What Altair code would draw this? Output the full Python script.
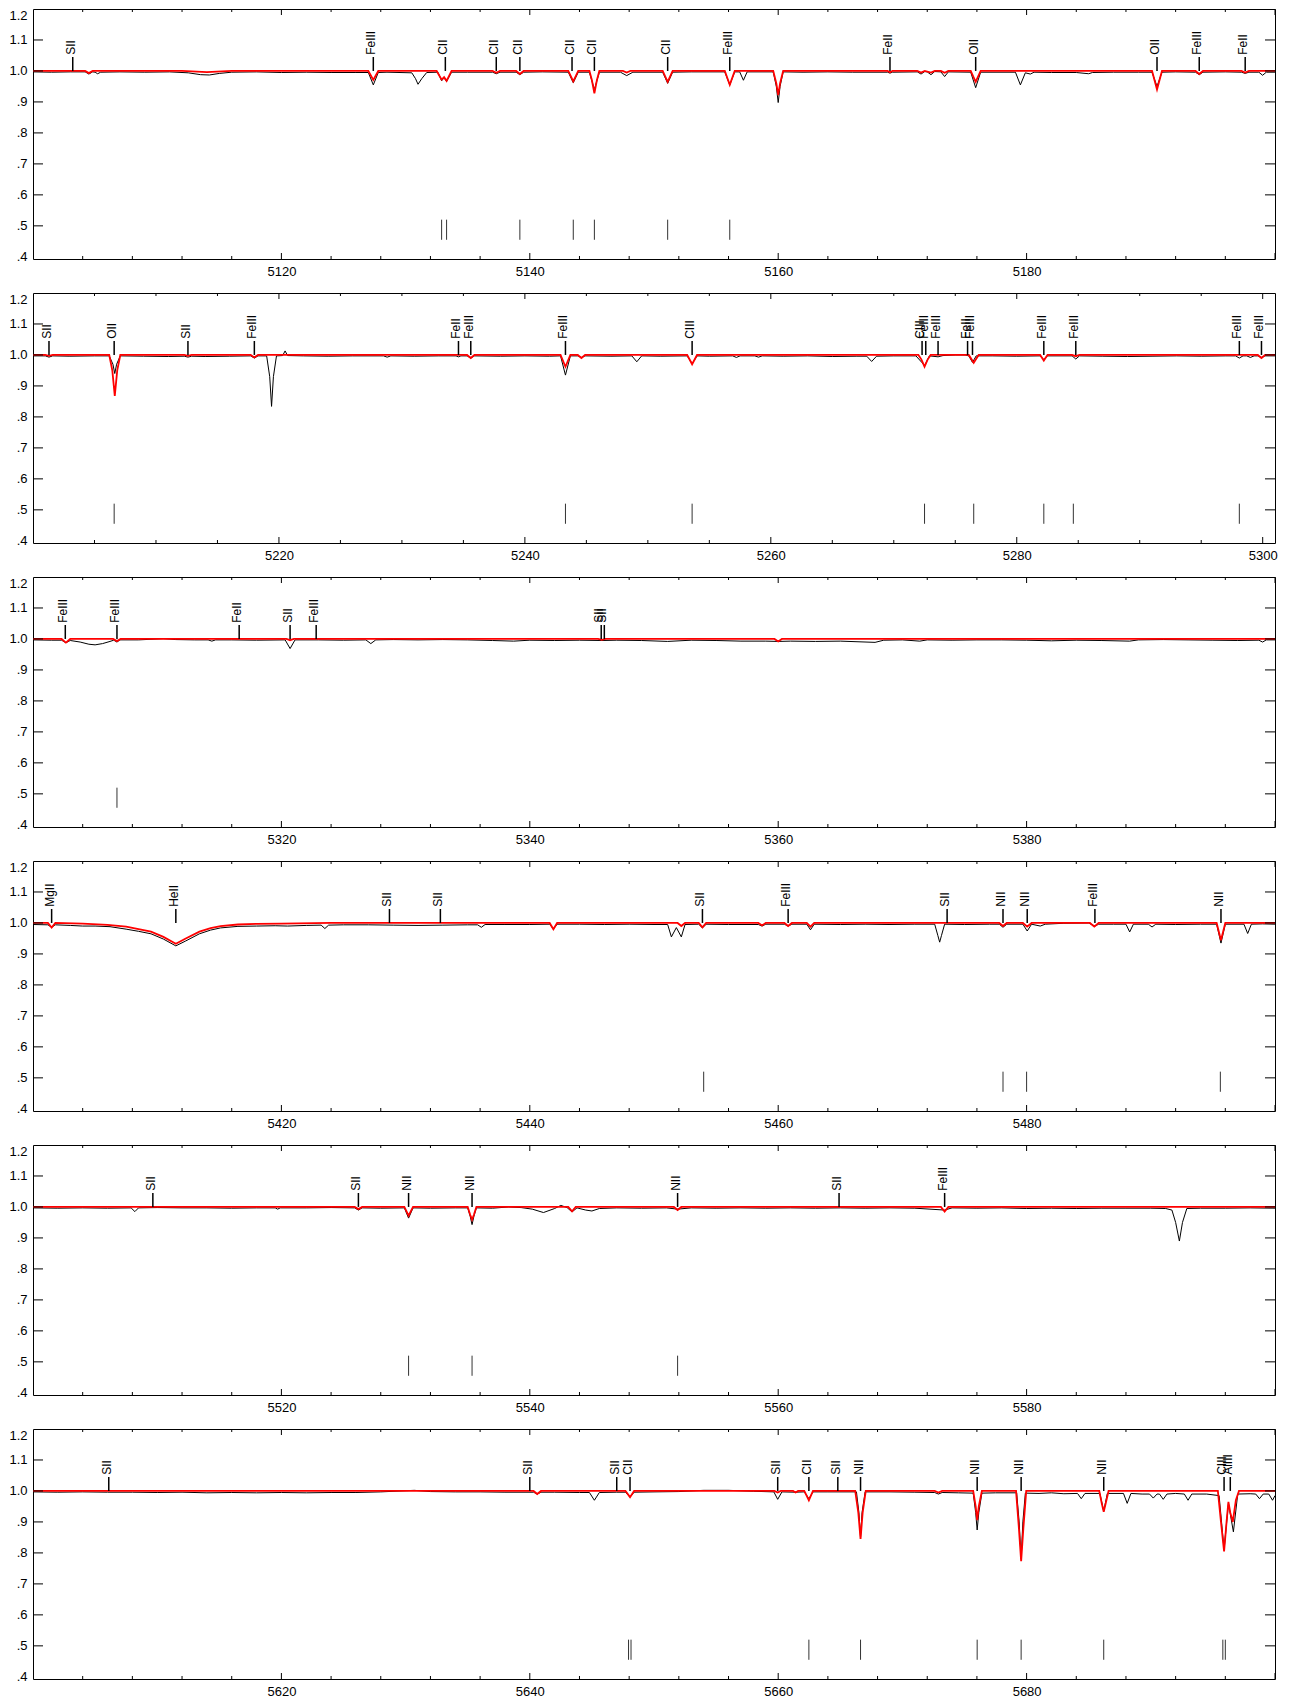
import altair as alt
import pandas as pd

FONT = "Liberation Sans"

# ---------------- Panel 1 : 5100 - 5200 ----------------
OBS_P1 = [
    (5100.0, 0.997), (5101.5, 0.996), (5103.0, 0.997), (5104.2, 0.997), (5104.5, 0.990), (5104.8, 0.997),
    (5105.0, 0.996), (5105.2, 0.991), (5105.45, 0.996), (5107.0, 0.997), (5109.0, 0.996), (5111.0, 0.997),
    (5112.5, 0.994), (5113.5, 0.988), (5114.2, 0.987), (5115.0, 0.992), (5116.0, 0.996), (5118.0, 0.997),
    (5120.0, 0.995), (5122.0, 0.996), (5124.0, 0.995), (5126.0, 0.995), (5127.0, 0.995), (5127.4, 0.955),
    (5127.8, 0.995), (5128.5, 0.996), (5130.5, 0.994), (5130.8, 0.975), (5131.0, 0.957), (5131.3, 0.975),
    (5131.7, 0.995), (5132.6, 0.996), (5132.9, 0.968), (5133.1, 0.978), (5133.3, 0.966), (5133.7, 0.996),
    (5135.0, 0.996), (5137.0, 0.996), (5137.3, 0.991), (5137.6, 0.996), (5138.9, 0.996), (5139.2, 0.988),
    (5139.5, 0.996), (5141.0, 0.997), (5143.1, 0.996), (5143.5, 0.962), (5143.9, 0.996), (5144.8, 0.996),
    (5145.2, 0.940), (5145.6, 0.996), (5147.3, 0.996), (5147.8, 0.985), (5148.3, 0.996), (5150.0, 0.996),
    (5150.7, 0.996), (5151.1, 0.960), (5151.5, 0.996), (5153.0, 0.997), (5155.7, 0.997), (5156.1, 0.955),
    (5156.5, 0.997), (5156.9, 0.997), (5157.2, 0.970), (5157.5, 0.997), (5159.6, 0.997), (5159.85, 0.950),
    (5160.0, 0.898), (5160.15, 0.950), (5160.4, 0.997), (5162.0, 0.996), (5164.0, 0.997), (5166.0, 0.996),
    (5168.8, 0.996), (5169.0, 0.993), (5169.2, 0.996), (5171.2, 0.997), (5171.5, 0.990), (5171.8, 0.998),
    (5172.0, 0.997), (5172.3, 0.988), (5172.6, 0.998), (5173.1, 0.997), (5173.4, 0.982), (5173.7, 0.997),
    (5175.5, 0.996), (5175.9, 0.946), (5176.3, 0.996), (5179.1, 0.996), (5179.5, 0.955), (5179.9, 0.994),
    (5180.3, 0.990), (5180.6, 0.996), (5182.0, 0.995), (5184.0, 0.995), (5185.0, 0.991), (5185.3, 0.995),
    (5187.0, 0.996), (5189.0, 0.996), (5190.1, 0.996), (5190.5, 0.950), (5190.9, 0.996), (5192.0, 0.997),
    (5193.6, 0.996), (5193.9, 0.988), (5194.2, 0.996), (5196.0, 0.997), (5197.3, 0.996), (5197.6, 0.992),
    (5197.9, 0.996), (5198.7, 0.996), (5199.0, 0.986), (5199.3, 0.996), (5200.0, 0.996),
]
MOD_P1 = [
    (5100.0, 1.0), (5104.2, 1.0), (5104.5, 0.993), (5104.8, 1.0), (5112.0, 1.0), (5114.0, 0.996),
    (5116.0, 1.0), (5127.0, 1.0), (5127.4, 0.971), (5127.8, 1.0), (5132.5, 1.0), (5132.9, 0.972),
    (5133.1, 0.980), (5133.3, 0.968), (5133.7, 1.0), (5137.0, 1.0), (5137.3, 0.994), (5137.6, 1.0),
    (5138.9, 1.0), (5139.2, 0.990), (5139.5, 1.0), (5143.1, 1.0), (5143.5, 0.966), (5143.9, 1.0),
    (5144.8, 1.0), (5145.0, 0.970), (5145.2, 0.928), (5145.4, 0.970), (5145.6, 1.0), (5147.5, 1.0),
    (5147.8, 0.995), (5148.1, 1.0), (5150.7, 1.0), (5151.1, 0.965), (5151.5, 1.0), (5155.7, 1.0),
    (5156.1, 0.955), (5156.5, 1.0), (5159.6, 1.0), (5159.85, 0.960), (5160.0, 0.922), (5160.15, 0.960),
    (5160.4, 1.0), (5168.8, 1.0), (5169.0, 0.996), (5169.2, 1.0), (5171.2, 1.0), (5171.5, 0.995),
    (5171.8, 1.0), (5172.3, 0.995), (5172.6, 1.0), (5173.1, 1.0), (5173.4, 0.994), (5173.7, 1.0),
    (5175.5, 1.0), (5175.9, 0.965), (5176.3, 1.0), (5190.1, 1.0), (5190.5, 0.940), (5190.9, 1.0),
    (5193.6, 1.0), (5193.9, 0.990), (5194.2, 1.0), (5197.3, 1.0), (5197.6, 0.995), (5197.9, 1.0),
    (5200.0, 1.0),
]
LBL_W_P1 = [5103.2, 5127.4, 5133.2, 5137.3, 5139.2, 5143.4, 5145.2, 5151.1, 5156.1, 5169.0, 5175.9, 5190.5, 5193.9, 5197.6]
LBL_T_P1 = ["SII", "FeIII", "CII", "CII", "CII", "CII", "CII", "CII", "FeIII", "FeII", "OII", "OII", "FeIII", "FeII"]
TICK_P1 = [5132.9, 5133.3, 5139.2, 5143.5, 5145.2, 5151.1, 5156.1]

# ---------------- Panel 2 : 5200 - 5301 ----------------
OBS_P2 = [
    (5200.0, 0.997), (5201.0, 0.997), (5201.3, 0.993), (5201.6, 0.997), (5203.0, 0.996), (5205.0, 0.997),
    (5206.2, 0.997), (5206.5, 0.970), (5206.65, 0.940), (5206.8, 0.970), (5207.1, 0.997), (5209.0, 0.996),
    (5211.0, 0.995), (5212.3, 0.996), (5212.6, 0.993), (5212.9, 0.996), (5214.0, 0.995), (5216.0, 0.996),
    (5217.7, 0.997), (5218.0, 0.990), (5218.3, 0.997), (5219.0, 0.997), (5219.25, 0.930), (5219.4, 0.834),
    (5219.55, 0.930), (5219.8, 0.997), (5220.3, 0.998), (5220.5, 1.013), (5220.7, 0.998), (5222.0, 0.997),
    (5224.0, 0.996), (5226.0, 0.997), (5228.5, 0.997), (5228.8, 0.993), (5229.1, 0.997), (5231.0, 0.996),
    (5233.0, 0.997), (5234.4, 0.997), (5234.6, 0.994), (5234.8, 0.997), (5235.3, 0.997), (5235.6, 0.990),
    (5235.9, 0.997), (5238.0, 0.996), (5240.0, 0.997), (5242.0, 0.996), (5242.9, 0.997), (5243.3, 0.935),
    (5243.7, 0.997), (5244.3, 0.997), (5244.6, 0.992), (5244.9, 0.997), (5247.0, 0.996), (5248.7, 0.997),
    (5249.1, 0.978), (5249.5, 0.997), (5251.0, 0.996), (5253.2, 0.997), (5253.6, 0.972), (5254.0, 0.997),
    (5255.0, 0.996), (5256.9, 0.997), (5257.2, 0.992), (5257.5, 0.997), (5258.7, 0.997), (5259.0, 0.993),
    (5259.3, 0.997), (5261.0, 0.996), (5263.0, 0.997), (5265.0, 0.995), (5267.0, 0.996), (5267.8, 0.996),
    (5268.2, 0.979), (5268.6, 0.996), (5270.0, 0.997), (5271.8, 0.997), (5272.3, 0.975), (5272.5, 0.965),
    (5272.9, 0.997), (5273.6, 0.994), (5274.0, 0.998), (5275.0, 1.000), (5275.8, 1.000), (5276.1, 0.997),
    (5276.4, 0.976), (5276.7, 0.997), (5278.0, 0.997), (5280.0, 0.996), (5281.9, 0.997), (5282.2, 0.985),
    (5282.5, 0.997), (5284.5, 0.997), (5284.8, 0.987), (5285.1, 0.997), (5287.0, 0.996), (5289.0, 0.995),
    (5291.0, 0.996), (5293.0, 0.997), (5295.0, 0.996), (5297.0, 0.997), (5297.8, 0.997), (5298.1, 0.990),
    (5298.4, 0.997), (5298.7, 0.997), (5299.0, 0.992), (5299.3, 0.997), (5299.6, 0.997), (5299.9, 0.992),
    (5300.2, 0.997), (5301.0, 0.997),
]
MOD_P2 = [
    (5200.0, 1.0), (5201.0, 1.0), (5201.3, 0.997), (5201.6, 1.0), (5206.2, 1.0), (5206.45, 0.950),
    (5206.65, 0.868), (5206.85, 0.950), (5207.1, 1.0), (5212.3, 1.0), (5212.6, 0.997), (5212.9, 1.0),
    (5217.7, 1.0), (5218.0, 0.992), (5218.3, 1.0), (5235.3, 1.0), (5235.6, 0.990), (5235.9, 1.0),
    (5242.9, 1.0), (5243.3, 0.962), (5243.7, 1.0), (5244.3, 1.0), (5244.6, 0.990), (5244.9, 1.0),
    (5253.2, 1.0), (5253.6, 0.970), (5254.0, 1.0), (5272.0, 1.0), (5272.25, 0.985), (5272.5, 0.962),
    (5272.75, 0.985), (5273.0, 1.0), (5276.1, 1.0), (5276.5, 0.975), (5276.9, 1.0), (5281.9, 1.0),
    (5282.2, 0.982), (5282.5, 1.0), (5284.5, 1.0), (5284.8, 0.996), (5285.1, 1.0), (5299.6, 1.0),
    (5299.9, 0.990), (5300.2, 1.0), (5301.0, 1.0),
]
LBL_W_P2 = [5201.3, 5206.6, 5212.6, 5218.0, 5234.6, 5235.6, 5243.3, 5253.6, 5272.3, 5272.6, 5273.6,
            5276.0, 5276.4, 5282.2, 5284.8, 5298.1, 5299.9]
LBL_T_P2 = ["SII", "OII", "SII", "FeIII", "FeII", "FeIII", "FeIII", "CIII", "CIII", "FeIII", "FeIII",
            "FeII", "FeIII", "FeIII", "FeIII", "FeIII", "FeIII"]
TICK_P2 = [5206.6, 5243.3, 5253.6, 5272.5, 5276.5, 5282.2, 5284.6, 5298.1]

# ---------------- Panel 3 : 5300 - 5400 ----------------
OBS_P3 = [
    (5300.0, 0.997), (5301.5, 0.996), (5302.3, 0.996), (5302.65, 0.988), (5303.0, 0.995), (5303.8, 0.990),
    (5304.5, 0.983), (5305.0, 0.981), (5305.6, 0.985), (5306.2, 0.992), (5306.5, 0.996), (5306.76, 0.990),
    (5307.0, 0.997), (5308.5, 0.997), (5309.5, 0.999), (5310.5, 1.001), (5311.5, 0.998), (5313.0, 0.997),
    (5314.1, 0.997), (5314.4, 0.993), (5314.7, 0.997), (5316.0, 0.997), (5318.0, 0.996), (5320.3, 0.997),
    (5320.7, 0.969), (5321.1, 0.997), (5323.0, 0.997), (5325.0, 0.996), (5326.8, 0.997), (5327.2, 0.985),
    (5327.6, 0.997), (5329.0, 0.998), (5331.0, 0.997), (5333.0, 0.998), (5335.0, 0.997), (5337.0, 0.995),
    (5338.7, 0.993), (5340.0, 0.996), (5342.0, 0.995), (5344.0, 0.996), (5345.8, 0.995), (5347.0, 0.996),
    (5349.0, 0.995), (5351.1, 0.992), (5353.0, 0.996), (5355.0, 0.995), (5357.0, 0.993), (5359.0, 0.993),
    (5360.0, 0.992), (5361.0, 0.993), (5363.0, 0.992), (5365.0, 0.993), (5367.8, 0.989), (5368.5, 0.996),
    (5370.0, 0.997), (5371.4, 0.993), (5372.0, 0.997), (5374.0, 0.996), (5376.0, 0.997), (5378.0, 0.997),
    (5380.0, 0.996), (5382.0, 0.994), (5384.0, 0.996), (5386.0, 0.995), (5388.3, 0.993), (5389.0, 0.997),
    (5391.0, 0.998), (5393.0, 0.997), (5395.0, 0.996), (5397.0, 0.995), (5398.7, 0.996), (5399.0, 0.990),
    (5399.3, 0.997), (5400.0, 0.997),
]
MOD_P3 = [
    (5300.0, 1.0), (5302.3, 1.0), (5302.65, 0.988), (5303.0, 1.0), (5306.45, 1.0), (5306.76, 0.993),
    (5307.05, 1.0), (5320.4, 1.0), (5320.7, 0.996), (5321.0, 1.0), (5345.5, 1.0), (5345.8, 0.997),
    (5346.1, 1.0), (5359.7, 1.0), (5360.0, 0.992), (5360.3, 1.0), (5400.0, 1.0),
]
LBL_W_P3 = [5302.6, 5306.76, 5316.6, 5320.7, 5322.8, 5345.75, 5346.0]
LBL_T_P3 = ["FeIII", "FeIII", "FeII", "SII", "FeIII", "SII", "SII"]
TICK_P3 = [5306.76]

# ---------------- Panel 4 : 5400 - 5500 ----------------
OBS_P4 = [
    (5400.0, 0.995), (5401.2, 0.994), (5401.5, 0.986), (5401.8, 0.994), (5403.0, 0.992), (5404.0, 0.990),
    (5405.0, 0.990), (5406.2, 0.988), (5407.5, 0.980), (5408.5, 0.973), (5409.5, 0.965), (5410.5, 0.948),
    (5411.5, 0.926), (5412.3, 0.942), (5413.4, 0.965), (5414.3, 0.977), (5415.1, 0.984), (5416.5, 0.989),
    (5418.0, 0.990), (5419.5, 0.991), (5420.5, 0.990), (5422.0, 0.992), (5423.2, 0.993), (5423.5, 0.982),
    (5423.8, 0.993), (5425.0, 0.994), (5427.0, 0.994), (5429.0, 0.993), (5431.0, 0.992), (5433.0, 0.993),
    (5435.0, 0.994), (5435.8, 0.994), (5436.1, 0.986), (5436.4, 0.995), (5438.0, 0.995), (5440.0, 0.995),
    (5441.6, 0.996), (5441.9, 0.980), (5442.2, 0.996), (5444.0, 0.996), (5446.0, 0.995), (5448.0, 0.996),
    (5450.0, 0.995), (5451.1, 0.995), (5451.4, 0.955), (5451.8, 0.985), (5452.2, 0.955), (5452.5, 0.995),
    (5453.6, 0.996), (5453.9, 0.984), (5454.2, 0.996), (5456.0, 0.995), (5458.4, 0.995), (5458.7, 0.990),
    (5459.0, 0.996), (5460.5, 0.996), (5460.8, 0.990), (5461.1, 0.996), (5462.3, 0.996), (5462.6, 0.978),
    (5462.9, 0.996), (5465.0, 0.995), (5467.0, 0.996), (5469.0, 0.995), (5471.0, 0.996), (5472.6, 0.996),
    (5472.85, 0.960), (5473.0, 0.938), (5473.15, 0.960), (5473.4, 0.996), (5475.0, 0.995), (5477.0, 0.996),
    (5477.8, 0.996), (5478.1, 0.986), (5478.4, 0.996), (5479.7, 0.996), (5480.05, 0.974), (5480.4, 0.996),
    (5481.1, 0.990), (5481.5, 0.996), (5483.0, 0.999), (5485.0, 1.000), (5485.5, 0.990), (5485.8, 0.996),
    (5487.0, 0.996), (5488.0, 0.996), (5488.3, 0.971), (5488.6, 0.996), (5489.8, 0.996), (5490.1, 0.987),
    (5490.4, 0.996), (5492.0, 0.995), (5494.0, 0.996), (5495.3, 0.996), (5495.65, 0.935), (5496.0, 0.996),
    (5497.5, 0.996), (5497.8, 0.966), (5498.1, 0.996), (5499.0, 0.997), (5500.0, 0.996),
]
MOD_P4 = [
    (5400.0, 1.0), (5401.2, 1.0), (5401.5, 0.985), (5401.8, 1.0), (5404.0, 0.998), (5406.0, 0.994),
    (5407.5, 0.988), (5408.5, 0.980), (5409.5, 0.972), (5410.5, 0.955), (5411.5, 0.933), (5412.3, 0.950),
    (5413.4, 0.972), (5414.3, 0.983), (5415.1, 0.990), (5416.5, 0.995), (5418.0, 0.997), (5420.0, 0.998),
    (5424.0, 1.0), (5441.6, 1.0), (5441.9, 0.980), (5442.2, 1.0), (5451.9, 1.0), (5452.2, 0.990),
    (5452.5, 1.0), (5453.6, 1.0), (5453.9, 0.986), (5454.2, 1.0), (5458.4, 1.0), (5458.7, 0.992),
    (5459.0, 1.0), (5460.5, 1.0), (5460.8, 0.990), (5461.1, 1.0), (5462.3, 1.0), (5462.6, 0.988),
    (5462.9, 1.0), (5477.8, 1.0), (5478.1, 0.990), (5478.4, 1.0), (5479.7, 1.0), (5480.05, 0.988),
    (5480.4, 1.0), (5485.1, 1.0), (5485.45, 0.988), (5485.8, 1.0), (5495.3, 1.0), (5495.65, 0.944),
    (5496.0, 1.0), (5500.0, 1.0),
]
LBL_W_P4 = [5401.5, 5411.5, 5428.7, 5432.8, 5453.9, 5460.8, 5473.6, 5478.1, 5480.05, 5485.5, 5495.65]
LBL_T_P4 = ["MgII", "HeII", "SII", "SII", "SII", "FeIII", "SII", "NII", "NII", "FeIII", "NII"]
TICK_P4 = [5454.0, 5478.1, 5480.0, 5495.6]

# ---------------- Panel 5 : 5500 - 5600 ----------------
OBS_P5 = [
    (5500.0, 0.997), (5502.0, 0.996), (5504.0, 0.997), (5506.0, 0.996), (5507.9, 0.997), (5508.2, 0.985),
    (5508.5, 0.997), (5510.0, 0.998), (5512.0, 0.997), (5514.0, 0.997), (5516.0, 0.996), (5518.0, 0.997),
    (5519.5, 0.997), (5519.7, 0.993), (5519.9, 0.997), (5522.0, 0.997), (5524.0, 0.998), (5525.9, 0.997),
    (5526.2, 0.990), (5526.5, 0.997), (5528.0, 0.996), (5529.9, 0.997), (5530.24, 0.964), (5530.6, 0.997),
    (5532.0, 0.996), (5534.0, 0.997), (5535.0, 0.997), (5535.2, 0.970), (5535.35, 0.943), (5535.5, 0.970),
    (5535.7, 0.997), (5537.0, 0.996), (5538.3, 1.000), (5539.3, 0.998), (5540.2, 0.993), (5541.1, 0.982),
    (5542.0, 0.995), (5542.5, 1.005), (5543.0, 0.998), (5543.4, 0.984), (5543.8, 0.997), (5544.5, 0.990),
    (5545.0, 0.987), (5545.6, 0.995), (5547.0, 0.997), (5549.0, 0.996), (5551.0, 0.997), (5551.9, 0.993),
    (5553.0, 0.997), (5555.0, 0.996), (5557.0, 0.997), (5559.0, 0.996), (5561.0, 0.997), (5563.0, 0.996),
    (5565.0, 0.997), (5567.0, 0.996), (5569.0, 0.997), (5571.0, 0.996), (5573.4, 0.990), (5574.0, 0.997),
    (5576.0, 0.996), (5578.0, 0.997), (5580.0, 0.995), (5582.0, 0.996), (5584.0, 0.995), (5586.0, 0.996),
    (5588.0, 0.996), (5590.0, 0.996), (5591.2, 0.995), (5591.7, 0.990), (5592.0, 0.950), (5592.3, 0.890),
    (5592.55, 0.950), (5592.9, 0.995), (5594.0, 0.996), (5596.0, 0.996), (5598.0, 0.997), (5600.0, 0.996),
]
MOD_P5 = [
    (5500.0, 1.0), (5525.9, 1.0), (5526.2, 0.993), (5526.5, 1.0), (5529.9, 1.0), (5530.24, 0.972),
    (5530.6, 1.0), (5535.0, 1.0), (5535.2, 0.975), (5535.35, 0.959), (5535.5, 0.975), (5535.7, 1.0),
    (5543.1, 1.0), (5543.4, 0.986), (5543.7, 1.0), (5551.6, 1.0), (5551.9, 0.990), (5552.2, 1.0),
    (5573.1, 1.0), (5573.4, 0.985), (5573.7, 1.0), (5600.0, 1.0),
]
LBL_W_P5 = [5509.65, 5526.2, 5530.24, 5535.35, 5551.9, 5564.9, 5573.4]
LBL_T_P5 = ["SII", "SII", "NII", "NII", "NII", "SII", "FeIII"]
TICK_P5 = [5530.24, 5535.35, 5551.9]

# ---------------- Panel 6 : 5600 - 5700 ----------------
OBS_P6 = [
    (5600.0, 0.997), (5602.0, 0.996), (5604.0, 0.997), (5606.0, 0.996), (5608.0, 0.996), (5610.0, 0.995),
    (5612.0, 0.996), (5614.0, 0.994), (5616.0, 0.995), (5618.0, 0.994), (5620.0, 0.995), (5622.0, 0.994),
    (5624.0, 0.995), (5626.0, 0.995), (5628.0, 0.997), (5630.7, 1.002), (5632.0, 0.998), (5634.0, 0.997),
    (5636.0, 0.997), (5638.0, 0.996), (5640.3, 0.996), (5640.6, 0.990), (5640.9, 0.996), (5642.0, 0.996),
    (5644.0, 0.995), (5644.8, 0.995), (5645.2, 0.970), (5645.6, 0.995), (5647.0, 0.996), (5647.7, 0.996),
    (5648.07, 0.980), (5648.4, 0.996), (5650.0, 0.997), (5652.0, 0.998), (5654.0, 1.002), (5656.0, 1.002),
    (5658.0, 0.999), (5659.65, 0.997), (5659.96, 0.973), (5660.3, 0.997), (5661.4, 0.996), (5662.1, 0.997),
    (5662.47, 0.975), (5662.8, 0.997), (5664.0, 0.997), (5666.3, 0.997), (5666.5, 0.930), (5666.63, 0.850),
    (5666.75, 0.930), (5667.0, 0.997), (5669.0, 0.997), (5671.0, 0.996), (5672.6, 0.995), (5672.9, 0.990),
    (5673.2, 0.995), (5674.5, 0.994), (5675.7, 0.993), (5675.9, 0.930), (5676.02, 0.874), (5676.15, 0.930),
    (5676.4, 0.993), (5677.5, 0.994), (5679.2, 0.994), (5679.4, 0.900), (5679.56, 0.780), (5679.7, 0.900),
    (5679.9, 0.993), (5681.0, 0.992), (5682.0, 0.994), (5683.0, 0.991), (5684.1, 0.992), (5684.4, 0.975),
    (5684.7, 0.992), (5685.9, 0.992), (5686.21, 0.935), (5686.5, 0.992), (5687.8, 0.992), (5688.1, 0.960),
    (5688.4, 0.992), (5689.3, 0.990), (5689.9, 0.990), (5690.2, 0.977), (5690.5, 0.990), (5690.7, 0.990),
    (5691.0, 0.973), (5691.3, 0.990), (5692.0, 0.992), (5692.7, 0.990), (5693.0, 0.970), (5693.3, 0.990),
    (5694.5, 0.990), (5695.5, 0.985), (5695.9, 0.810), (5696.25, 0.960), (5696.65, 0.868), (5697.0, 0.990),
    (5698.0, 0.991), (5698.45, 0.990), (5698.75, 0.975), (5699.05, 0.990), (5699.5, 0.990), (5699.8, 0.970),
    (5700.0, 0.985),
]
MOD_P6 = [
    (5600.0, 1.0), (5640.3, 1.0), (5640.6, 0.990), (5640.9, 1.0), (5647.7, 1.0), (5648.07, 0.980),
    (5648.4, 1.0), (5659.7, 1.0), (5659.96, 0.995), (5660.2, 1.0), (5661.2, 1.0), (5661.4, 0.995),
    (5661.6, 1.0), (5662.1, 1.0), (5662.47, 0.970), (5662.8, 1.0), (5666.2, 1.0), (5666.45, 0.930),
    (5666.63, 0.845), (5666.8, 0.930), (5667.05, 1.0), (5672.6, 1.0), (5672.9, 0.995), (5673.2, 1.0),
    (5675.7, 1.0), (5675.9, 0.950), (5676.02, 0.906), (5676.15, 0.950), (5676.4, 1.0), (5679.15, 1.0),
    (5679.38, 0.880), (5679.56, 0.773), (5679.74, 0.880), (5679.97, 1.0), (5685.85, 1.0), (5686.05, 0.960),
    (5686.21, 0.933), (5686.37, 0.960), (5686.6, 1.0), (5695.4, 1.0), (5695.65, 0.900), (5695.9, 0.805),
    (5696.1, 0.900), (5696.25, 0.965), (5696.4, 0.930), (5696.6, 0.900), (5696.85, 0.970), (5697.1, 1.0),
    (5700.0, 1.0),
]
LBL_W_P6 = [5606.1, 5640.0, 5647.0, 5648.07, 5659.96, 5662.47, 5664.8, 5666.63, 5676.02, 5679.56,
            5686.21, 5695.9, 5696.4]
LBL_T_P6 = ["SII", "SII", "SII", "CII", "SII", "CII", "SII", "NII", "NII", "NII", "NII", "CIII", "AlIII"]
TICK_P6 = [5647.95, 5648.15, 5662.47, 5666.63, 5676.02, 5679.56, 5686.21, 5695.8, 5696.0]

# ---------------- axes ----------------
X_DOMAINS = [(5100, 5200), (5200, 5301), (5300, 5400), (5400, 5500), (5500, 5600), (5600, 5700)]
X_LABELS = [
    [5120, 5140, 5160, 5180],
    [5220, 5240, 5260, 5280, 5300],
    [5320, 5340, 5360, 5380],
    [5420, 5440, 5460, 5480],
    [5520, 5540, 5560, 5580],
    [5620, 5640, 5660, 5680],
]
X_MINOR_STEP = [4, 5, 4, 4, 4, 4]
Y_TICKS = [0.4, 0.5, 0.6, 0.7, 0.8, 0.9, 1.0, 1.1, 1.2]
Y_MIN, Y_MAX = 0.393, 1.2

W, H = 1242, 250

PANELS = [
    (OBS_P1, MOD_P1, LBL_W_P1, LBL_T_P1, TICK_P1),
    (OBS_P2, MOD_P2, LBL_W_P2, LBL_T_P2, TICK_P2),
    (OBS_P3, MOD_P3, LBL_W_P3, LBL_T_P3, TICK_P3),
    (OBS_P4, MOD_P4, LBL_W_P4, LBL_T_P4, TICK_P4),
    (OBS_P5, MOD_P5, LBL_W_P5, LBL_T_P5, TICK_P5),
    (OBS_P6, MOD_P6, LBL_W_P6, LBL_T_P6, TICK_P6),
]

Y_LABEL_EXPR = "datum.value >= 1 ? format(datum.value, '.1f') : replace(format(datum.value, '.1f'), '0.', '.')"


def make_panel(i):
    obs, mod, lw, lt, ticks = PANELS[i]
    lo, hi = X_DOMAINS[i]
    xs = alt.Scale(domain=[lo, hi], nice=False, zero=False)
    ys = alt.Scale(domain=[Y_MIN, Y_MAX], nice=False, zero=False)

    x_axis = alt.Axis(values=X_LABELS[i], format="d", tickSize=0, domain=False, grid=False, title=None,
                      labelFont=FONT, labelFontSize=13, labelPadding=6, labelColor="black")
    y_axis = alt.Axis(values=Y_TICKS, labelExpr=Y_LABEL_EXPR, tickSize=0, domain=False, grid=False,
                      title=None, labelFont=FONT, labelFontSize=13, labelPadding=6, labelColor="black",
                      labelFlush=True)

    def X(field="w:Q"):
        return alt.X(field, scale=xs, axis=x_axis)

    def Y(field):
        return alt.Y(field, scale=ys, axis=y_axis)

    obs_df = pd.DataFrame(obs, columns=["w", "f"])
    mod_df = pd.DataFrame(mod, columns=["w", "f"])
    lbl_df = pd.DataFrame({"w": lw, "label": lt})
    lbl_df["f"] = 1.0
    lbl_df["f2"] = 1.045
    lbl_df["ft"] = 1.052
    tick_df = pd.DataFrame({"w": ticks})
    tick_df["f"] = 0.455
    tick_df["f2"] = 0.52

    step = X_MINOR_STEP[i]
    first = (lo // step + 1) * step
    major = [v for v in range(lo - lo % 20 + 20, hi + 1, 20) if lo < v <= hi]
    minor = [v for v in range(int(first), int(hi) + 1, step) if lo < v < hi and v not in major]
    minor_df = pd.DataFrame({"w": minor})
    major_df = pd.DataFrame({"w": major})
    ytick_df = pd.DataFrame({"f": Y_TICKS[1:-1]})

    obs_line = alt.Chart(obs_df).mark_line(color="black", strokeWidth=1, clip=True).encode(
        x=X(), y=Y("f:Q"))
    mod_line = alt.Chart(mod_df).mark_line(color="#ff0000", strokeWidth=1.8, clip=True).encode(
        x=X(), y=Y("f:Q"))
    markers = alt.Chart(lbl_df).mark_rule(color="black", strokeWidth=1.5).encode(
        x=X(), y=Y("f:Q"), y2="f2:Q")
    texts = alt.Chart(lbl_df).mark_text(angle=270, align="left", baseline="alphabetic", dy=2,
                                        font=FONT, fontSize=12, color="black").encode(
        x=X(), y=Y("ft:Q"), text="label:N")
    lticks = alt.Chart(tick_df).mark_rule(color="#333333", strokeWidth=1).encode(
        x=X(), y=Y("f:Q"), y2="f2:Q")

    def xt(df, y0, y1):
        return alt.Chart(df).mark_rule(color="black", strokeWidth=1).encode(
            x=X(), y=alt.value(y0), y2=alt.value(y1))

    def yt(x0, x1):
        return alt.Chart(ytick_df).mark_rule(color="black", strokeWidth=1).encode(
            y=Y("f:Q"), x=alt.value(x0), x2=alt.value(x1))

    frame_ticks = [xt(minor_df, 0, 3), xt(minor_df, H, H - 3), xt(major_df, 0, 6), xt(major_df, H, H - 6),
                   yt(0, 10), yt(W, W - 10)]

    return alt.layer(obs_line, mod_line, markers, texts, lticks, *frame_ticks).properties(width=W, height=H)


chart = alt.vconcat(*[make_panel(i) for i in range(6)], spacing=34, bounds="flush").properties(
    padding={"left": 0, "top": 0, "right": 0, "bottom": 0}, background="white"
).configure_view(stroke="black", strokeWidth=1)

chart.save("out.html", embed_options={"renderer": "svg", "actions": False})
